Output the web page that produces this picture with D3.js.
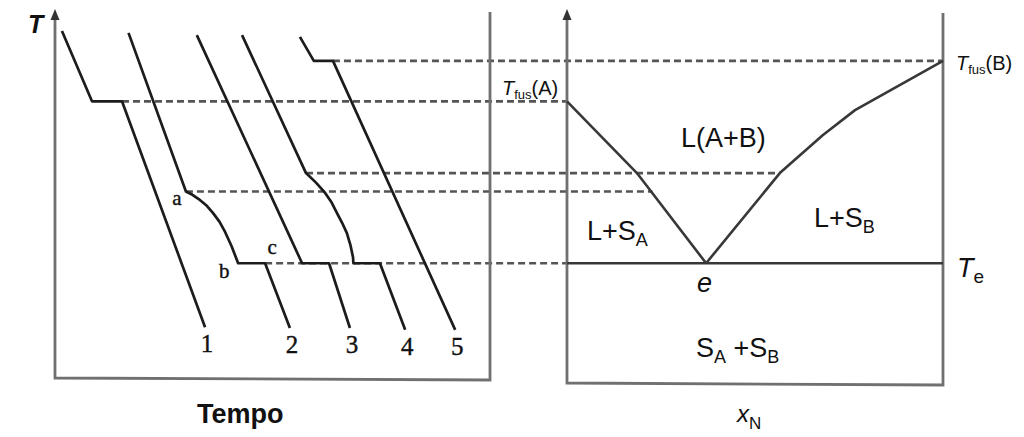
<!DOCTYPE html>
<html>
<head>
<meta charset="utf-8">
<script src="https://cdn.jsdelivr.net/npm/d3@7/dist/d3.min.js"></script>
<style>
  html, body { margin: 0; padding: 0; background: #fff; }
  svg { display: block; }
  text { fill: #111; font-family: "Liberation Sans", Arial, sans-serif; }
  .num { font-family: "Liberation Serif", "Times New Roman", serif; }
</style>
</head>
<body>
<script>
// Cooling curves (temperature vs time) and the binary eutectic phase diagram they build.

// Characteristic temperatures (arbitrary units, 0-100)
const T_A = 76;     // melting point of pure A
const T_B = 87;     // melting point of pure B
const T_a = 51.5;   // start of crystallisation, curve 2 (point a)
const T_4 = 56.5;   // start of crystallisation, curve 4
const T_e = 32;     // eutectic temperature

// Cooling curves: [time, temperature]
const curveLabels = ["1", "2", "3", "4", "5"];
const curve1 = [[1.6, 95.1], [8.5, T_A], [15.4, T_A], [34.5, 14.6]];
const curve2 = [[16.9, 94.6], [30.1, T_a], [31.6, 50.6], [33.3, 49.2], [34.9, 47.6], [36.3, 45.7],
                [37.8, 43.3], [39.1, 40.5], [40.6, 36.6], [42.1, T_e], [48.3, T_e], [54.0, 14.4]];
const curve3 = [[32.6, 94.0], [56.8, T_e], [63.0, T_e], [67.8, 14.4]];
const curve4 = [[43.0, 94.0], [57.7, T_4], [60.0, 53.9], [62.1, 51.1], [63.6, 48.5], [64.8, 45.7],
                [66.0, 43.0], [67.1, 40.2], [67.9, 37.0], [68.5, 33.7], [68.6, T_e], [74.7, T_e], [80.5, 13.9]];
const curve5 = [[56.3, 93.5], [59.5, T_B], [63.9, T_B], [92.0, 13.9]];
const curves = [curve1, curve2, curve3, curve4, curve5];

// Liquidus branches of the phase diagram: [x_N, temperature]
const liquidusA = [[0, T_A], [0.186, T_4], [0.37, T_e]];
const liquidusB = [[0.37, T_e], [0.566, T_4], [0.68, 66.8], [0.766, 73.6], [1, T_B]];
const eutecticLine = [[0, T_e], [1, T_e]];

// Guide lines joining the arrests on the cooling curves to the diagram
const guideTemps = [T_A, T_B, T_a, T_4, T_e];
const guideStartTime = [15.4, 63.9, 30.1, 57.7, 48.3];
const guideEndComp = [0, 1, 0.227, 0.566, 0];

const W = 1024, H = 437;
const svg = d3.select("body").append("svg").attr("width", W).attr("height", H);

// Shared temperature scale, time scale (left) and composition scale (right)
const y = d3.scaleLinear().domain([0, 100]).range([381, 13]);
const xt = d3.scaleLinear().domain([0, 100]).range([55, 490]);
const xc = d3.scaleLinear().domain([0, 1]).range([567, 943]);

const lineT = d3.line().x(d => xt(d[0])).y(d => y(d[1]));
const lineC = d3.line().x(d => xc(d[0])).y(d => y(d[1]));

// Dashed guide lines
svg.append("g").selectAll("line").data(guideTemps).join("line")
  .attr("x1", (d, i) => xt(guideStartTime[i]))
  .attr("x2", (d, i) => xc(guideEndComp[i]))
  .attr("y1", d => y(d)).attr("y2", d => y(d))
  .attr("stroke", "#555").attr("stroke-width", 2.7)
  .attr("stroke-dasharray", "7,4");

// Panel frames (open at the top)
const frame = svg.append("g").attr("fill", "none").attr("stroke", "#707070").attr("stroke-width", 2.8);
frame.append("path").attr("d", `M${xt(0)},${y(100) + 4} L${xt(0)},378 L${xt(100)},380 L${xt(100)},12`);
frame.append("path").attr("d", `M${xc(0)},${y(100) + 4} L${xc(0)},383 L${xc(1)},385 L${xc(1)},13`);

// Axis arrowheads
[xt(0), xc(0)].forEach(x0 => {
  svg.append("path")
    .attr("d", `M${x0},${y(100) - 4} L${x0 - 4.5},${y(100) + 7} L${x0 + 4.5},${y(100) + 7} Z`)
    .attr("fill", "#333");
});

// Cooling curves
svg.append("g").selectAll("path").data(curves).join("path")
  .attr("d", lineT)
  .attr("fill", "none").attr("stroke", "#1c1c1c").attr("stroke-width", 2.7)
  .attr("stroke-linejoin", "round");

// Curve numbers at the lower ends
svg.append("g").selectAll("text").data(curves).join("text")
  .attr("class", "num")
  .attr("x", d => xt(d[d.length - 1][0]) + 2)
  .attr("y", d => y(d[d.length - 1][1]) + 25)
  .attr("text-anchor", "middle")
  .attr("font-size", 25)
  .attr("stroke", "#111").attr("stroke-width", 0.4)
  .text((d, i) => curveLabels[i]);

// Points a, b, c on curve 2
const pa = curve2[1], pb = curve2[9], pc = curve2[10];
const letter = (p, dx, dy, s) => svg.append("text").attr("class", "num")
  .attr("x", xt(p[0]) + dx).attr("y", y(p[1]) + dy)
  .attr("text-anchor", "middle").attr("font-size", 21)
  .attr("stroke", "#111").attr("stroke-width", 0.4).text(s);
letter(pa, -9, 14, "a");
letter(pb, -14, 15, "b");
letter(pc, 7, -9, "c");

// Phase diagram lines
const dia = svg.append("g").attr("fill", "none").attr("stroke", "#383838").attr("stroke-width", 2.6)
  .attr("stroke-linejoin", "round");
dia.append("path").attr("d", lineC(liquidusA));
dia.append("path").attr("d", lineC(liquidusB));
dia.append("path").attr("d", lineC(eutecticLine)).attr("stroke-width", 2.4);

// Axis titles
svg.append("text").attr("x", 28).attr("y", 33)
  .attr("font-size", 25).attr("font-weight", "bold").attr("font-style", "italic").text("T");
svg.append("text").attr("x", 197).attr("y", 423)
  .attr("font-size", 27).attr("font-weight", "bold").text("Tempo");

function sub(x0, y0, size, parts) {
  const t = svg.append("text").attr("x", x0).attr("y", y0).attr("font-size", size);
  parts.forEach(p => {
    const s = t.append("tspan").text(p.t);
    if (p.sub) s.attr("font-size", p.sub).attr("dy", p.dy);
    if (p.up) s.attr("dy", p.up);
    if (p.it) s.attr("font-style", "italic");
  });
  return t;
}

sub(737, 422, 24, [{t: "x", it: true}, {t: "N", sub: 17, dy: 7}]);
sub(502, 95, 20, [{t: "T", it: true}, {t: "fus", sub: 13, dy: 4}, {t: "(A)", up: -4}]);
sub(956, 70, 20, [{t: "T", it: true}, {t: "fus", sub: 13, dy: 4}, {t: "(B)", up: -4}]);
sub(681, 147, 27, [{t: "L(A+B)"}]);
sub(587, 240, 27, [{t: "L+S"}, {t: "A", sub: 18, dy: 6}]);
sub(814, 227, 27, [{t: "L+S"}, {t: "B", sub: 18, dy: 6}]);
sub(957, 277, 27, [{t: "T", it: true}, {t: "e", sub: 19, dy: 6}]);
sub(697, 292, 27, [{t: "e", it: true}]);
sub(696, 357, 27, [{t: "S"}, {t: "A", sub: 18, dy: 6}, {t: " +S", up: -6}, {t: "B", sub: 18, dy: 6}]);
</script>
</body>
</html>
